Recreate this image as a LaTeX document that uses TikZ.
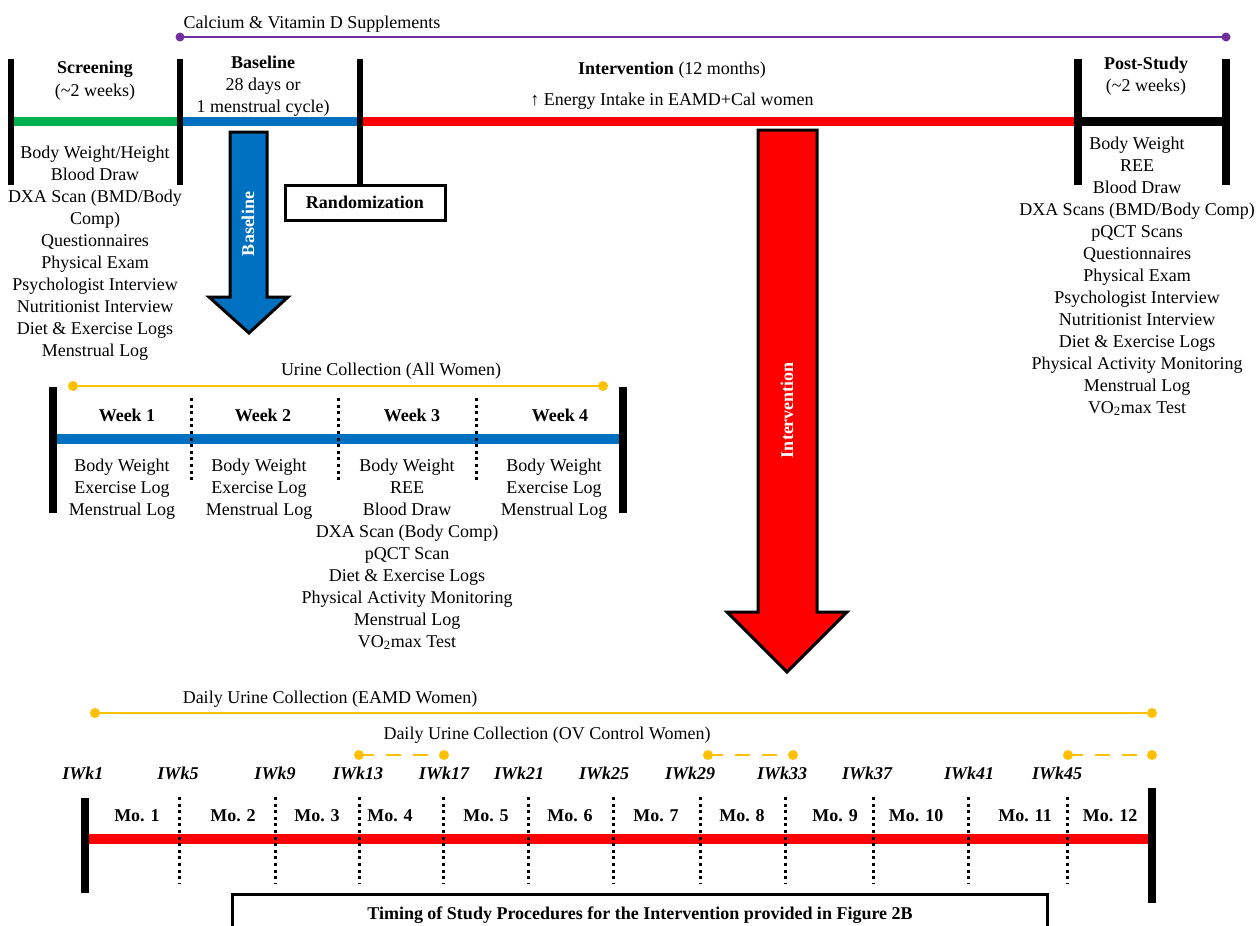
\documentclass[tikz,border=0pt]{standalone}
\usepackage{fontspec}
\setmainfont{Liberation Serif}
\definecolor{cgreen}{HTML}{00B050}
\definecolor{cblue}{HTML}{0070C0}
\definecolor{cred}{HTML}{FF0000}
\definecolor{cpurple}{HTML}{7030A0}
\definecolor{cgold}{HTML}{FFC000}
\begin{document}
\begin{tikzpicture}[x=1pt,y=-1pt,
  txt/.style={font=\fontsize{18}{22}\selectfont, inner sep=0pt, anchor=base},
  btxt/.style={font=\fontsize{18}{22}\selectfont\bfseries, inner sep=0pt, anchor=base},
  itxt/.style={font=\fontsize{18}{22}\selectfont\bfseries\itshape, inner sep=0pt, anchor=base},
  bar/.style={line width=6pt},
  tbar/.style={line width=8pt},
  tl/.style={line width=9pt},
  dots/.style={line width=3pt, dash pattern=on 3pt off 3.6pt},
  goldline/.style={cgold, line width=2.5pt},
  golddash/.style={cgold, line width=2.5pt, dash pattern=on 15pt off 12pt},
  golddot/.style={fill=cgold},
  arrowshape/.style={draw=black, line width=3pt, line join=miter},
  boxstyle/.style={draw=black, line width=3pt, fill=white, minimum height=35pt, inner sep=0pt}
]
\useasboundingbox (0,0) rectangle (1256,926);

% ---------- top supplements line ----------
\node[txt] (calc) at (312,28) {Calcium \& Vitamin D Supplements};
\coordinate (ps) at (180,37);
\coordinate (pe) at (1226,37);
\draw[cpurple, line width=2pt] (ps) -- (pe);
\fill[cpurple] (ps) circle (4.5pt) (pe) circle (4.5pt);

% ---------- main top timeline ----------
\coordinate (t0) at (11,121);
\coordinate (t1) at (180,121);
\coordinate (t2) at (360,121);
\coordinate (t3) at (1078,121);
\coordinate (t4) at (1226,121);
\draw[tl, cgreen] (t0) -- (t1);
\draw[tl, cblue] (t1) -- (t2);
\draw[tl, cred] (t2) -- (t3);
\draw[tl, black] (t3) -- (t4);

\draw[bar] (11,59) -- (11,185);
\draw[bar] (180,59) -- (180,185);
\node[boxstyle, minimum width=160pt] (rand) at (365,202.5) {\fontsize{18}{22}\selectfont\bfseries Randomization};
\draw[bar] (360,59) -- (rand.north -| 360,0);
\draw[tbar] (1078,59) -- (1078,185);
\draw[tbar] (1226,59) -- (1226,185);

% headers
\node[btxt] (scr) at (95,73) {Screening};
\node[txt] (scr2) at (95,96) {(\textasciitilde2 weeks)};
\node[btxt] (bas) at (263,68) {Baseline};
\node[txt] (bas2) at (263,90) {28 days or};
\node[txt] (bas3) at (263,112) {1 menstrual cycle)};
\node[txt] (int) at (672,74) {\textbf{Intervention} (12 months)};
\node[txt] (int2) at (672,105) {↑ Energy Intake in EAMD+Cal women};
\node[btxt] (post) at (1146,69) {Post-Study};
\node[txt] (post2) at (1146,91) {(\textasciitilde2 weeks)};

% screening list
\foreach \t [count=\i] in {Body Weight/Height, Blood Draw, DXA Scan (BMD/Body, {Comp)}, Questionnaires, Physical Exam, Psychologist Interview, Nutritionist Interview, Diet \& Exercise Logs, Menstrual Log}
  \node[txt] (s\i) at (95,{158+22*(\i-1)}) {\t};

% post-study list
\foreach \t [count=\i] in {Body Weight, REE, Blood Draw, DXA Scans (BMD/Body Comp), pQCT Scans, Questionnaires, Physical Exam, Psychologist Interview, Nutritionist Interview, Diet \& Exercise Logs, Physical Activity Monitoring, Menstrual Log, VO\textsubscript{2}max Test}
  \node[txt] (p\i) at (1137,{149+22*(\i-1)}) {\t};

% ---------- arrows ----------
\draw[arrowshape, fill=cblue] (230,132) -- (267,132) -- (267,297) -- (288,297) -- (249,333) -- (209,297) -- (230,297) -- cycle;
\node[font=\fontsize{18}{22}\selectfont\bfseries, text=white, rotate=90, inner sep=0pt] (barrow) at (248,224) {Baseline};
\draw[arrowshape, fill=cred] (758,130) -- (817,130) -- (817,612) -- (847,612) -- (787,672) -- (727,612) -- (758,612) -- cycle;
\node[font=\fontsize{18}{22}\selectfont\bfseries, text=white, rotate=90, inner sep=0pt] (iarrow) at (787,410) {Intervention};

% ---------- week section ----------
\node[txt] (urine) at (391,375) {Urine Collection (All Women)};
\coordinate (u0) at (73,386);
\coordinate (u1) at (603,386);
\draw[goldline] (u0) -- (u1);
\fill[golddot] (u0) circle (5pt) (u1) circle (5pt);
\coordinate (w0) at (53,439);
\coordinate (w1) at (623,439);
\draw[line width=10pt, cblue] (w0) -- (w1);
\draw[tbar] (53,387) -- (53,513);
\draw[tbar] (623,387) -- (623,513);
\foreach \x in {191,338,476} \draw[dots] (\x,398) -- (\x,480);
\node[btxt] (wk1) at (127,421) {Week 1};
\node[btxt] (wk2) at (263,421) {Week 2};
\node[btxt] (wk3) at (412,421) {Week 3};
\node[btxt] (wk4) at (560,421) {Week 4};
\foreach \t [count=\i] in {Body Weight, Exercise Log, Menstrual Log}
  \node[txt] (wa\i) at (122,{471+22*(\i-1)}) {\t};
\foreach \t [count=\i] in {Body Weight, Exercise Log, Menstrual Log}
  \node[txt] (wb\i) at (259,{471+22*(\i-1)}) {\t};
\foreach \t [count=\i] in {Body Weight, REE, Blood Draw, DXA Scan (Body Comp), pQCT Scan, Diet \& Exercise Logs, Physical Activity Monitoring, Menstrual Log, VO\textsubscript{2}max Test}
  \node[txt] (wc\i) at (407,{471+22*(\i-1)}) {\t};
\foreach \t [count=\i] in {Body Weight, Exercise Log, Menstrual Log}
  \node[txt] (wd\i) at (554,{471+22*(\i-1)}) {\t};

% ---------- bottom timeline ----------
\node[txt] (eamd) at (330,703) {Daily Urine Collection (EAMD Women)};
\coordinate (e0) at (95,713);
\coordinate (e1) at (1152,713);
\draw[goldline] (e0) -- (e1);
\fill[golddot] (e0) circle (5pt) (e1) circle (5pt);
\node[txt] (ov) at (547,739) {Daily Urine Collection (OV Control Women)};
\foreach \a/\b in {359/444, 708/793, 1068/1152}{
  \draw[golddash] (\a,755) -- (\b,755);
  \fill[golddot] (\a,755) circle (5pt) (\b,755) circle (5pt);
}
\foreach \t/\x in {IWk1/83, IWk5/178, IWk9/275, IWk13/358, IWk17/444, IWk21/519, IWk25/604, IWk29/690, IWk33/782, IWk37/867, IWk41/969, IWk45/1057}
  \node[itxt] (\t) at (\x,779) {\t};
\coordinate (m0) at (85,839);
\coordinate (m1) at (1152,839);
\draw[line width=10pt, cred] (m0) -- (m1);
\draw[tbar] (85,798) -- (85,893);
\draw[tbar] (1152,788) -- (1152,903);
\foreach \x in {179,275,359,443,528,613,700,785,873,968,1067} \draw[dots] (\x,797) -- (\x,883);
\foreach \n/\x in {1/137, 2/233, 3/317, 4/390, 5/486, 6/570, 7/656, 8/742, 9/835, 10/916, 11/1025, 12/1110}
  \node[btxt] (mo\n) at (\x,821) {Mo. \n};
\draw[line width=3pt] (232,926) -- (232,894) -- (1047,894) -- (1047,926);
\node[btxt] (timing) at (640,919) {Timing of Study Procedures for the Intervention provided in Figure 2B};
\end{tikzpicture}
\end{document}
